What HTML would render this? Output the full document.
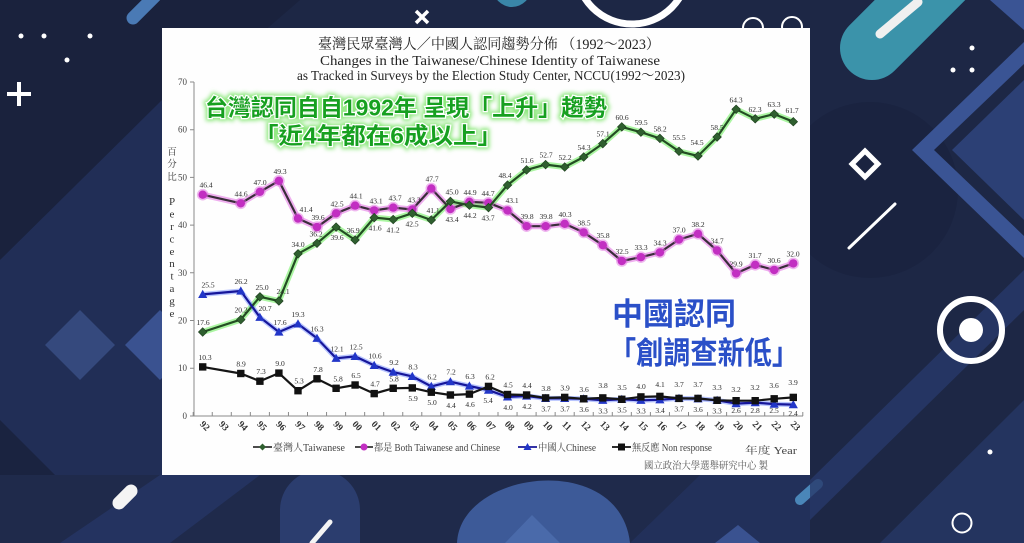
<!DOCTYPE html>
<html><head><meta charset="utf-8"><style>
html,body{margin:0;padding:0;background:#1d2745;}
svg{display:block}
</style></head><body>
<svg width="1024" height="543" viewBox="0 0 1024 543" xmlns="http://www.w3.org/2000/svg">
<defs>
<marker id="mD" markerUnits="userSpaceOnUse" markerWidth="12" markerHeight="12" viewBox="-6 -6 12 12" refX="0" refY="0"><path d="M0,-4.3L4.3,0L0,4.3L-4.3,0Z" fill="#2f5f2f" stroke="#1b3b1b" stroke-width="0.6"/></marker>
<marker id="mC" markerUnits="userSpaceOnUse" markerWidth="14" markerHeight="14" viewBox="-7 -7 14 14" refX="0" refY="0"><circle r="5.8" fill="#e070e0" opacity="0.5"/><circle r="4.2" fill="#c22fc2"/></marker>
<marker id="mT" markerUnits="userSpaceOnUse" markerWidth="12" markerHeight="12" viewBox="-6 -6 12 12" refX="0" refY="0"><path d="M0,-4.6L4.6,3.6L-4.6,3.6Z" fill="#2236c8"/></marker>
<marker id="mS" markerUnits="userSpaceOnUse" markerWidth="10" markerHeight="10" viewBox="-5 -5 10 10" refX="0" refY="0"><rect x="-3.7" y="-3.7" width="7.4" height="7.4" fill="#111"/></marker>
<filter id="blur2" x="-10%" y="-30%" width="120%" height="160%"><feGaussianBlur stdDeviation="2"/></filter>
</defs>

<!-- background -->
<rect width="1024" height="543" fill="#1d2745"/>
<polygon points="0,0 300,0 0,260" fill="#1a223d"/>
<polygon points="0,260 162,100 162,543 0,543" fill="#212e56"/>
<polygon points="0,420 70,490 20,543 0,543" fill="#1a2340"/>
<polygon points="80,310 115,345 80,380 45,345" fill="#35497d"/>
<polygon points="160,310 195,345 160,380 125,345" fill="#3a5290"/>
<polygon points="0,475 810,475 810,543 0,543" fill="#1f2a4b"/>
<polygon points="60,543 160,475 260,475 170,543" fill="#243360"/>
<path d="M280,543 V510 a40,40 0 0 1 80,0 V543Z" fill="#2b3d6e"/>
<path d="M457,543 C460,470 620,450 630,543Z" fill="#3d5a98"/>
<polygon points="505,543 532,515 560,543" fill="#4a6aaa"/>
<polygon points="630,543 700,475 810,475 810,543" fill="#22305a"/>
<polygon points="715,543 738,525 760,543" fill="#3a5290"/>
<line x1="330" y1="522" x2="312" y2="543" stroke="#f4f4f4" stroke-width="5" stroke-linecap="round"/>
<line x1="119" y1="503" x2="131" y2="491" stroke="#f4f4f4" stroke-width="13" stroke-linecap="round"/>
<line x1="800" y1="500" x2="818" y2="484" stroke="#4a86b8" stroke-width="10" stroke-linecap="round"/>

<!-- right strip -->
<circle cx="870" cy="190" r="88" fill="#1a2340"/>
<polygon points="880,543 1024,400 1024,543" fill="#24345f"/>
<polygon points="810,480 1024,270 1024,310 810,520" fill="#283a6a" opacity="0.8"/>
<polygon points="1024,42 912,150 1024,258 1024,236 934,150 1024,64" fill="#3a5494"/>
<polygon points="1024,80 952,150 1024,220" fill="#2c4075"/>
<polygon points="990,0 1024,0 1024,30" fill="#3a5494"/>
<line x1="872" y1="48" x2="965" y2="-45" stroke="#3b93aa" stroke-width="64" stroke-linecap="round"/>
<line x1="880" y1="34" x2="918" y2="2" stroke="#f0f0f0" stroke-width="9" stroke-linecap="round"/>
<circle cx="972" cy="48" r="2.5" fill="#fff"/><circle cx="953" cy="70" r="2.5" fill="#fff"/><circle cx="972" cy="70" r="2.5" fill="#fff"/>
<polygon points="865,151 878,164 865,177 852,164" fill="none" stroke="#fff" stroke-width="5"/>
<line x1="849" y1="248" x2="895" y2="204" stroke="#fff" stroke-width="3" stroke-linecap="round"/>
<circle cx="971" cy="330" r="31" fill="none" stroke="#fff" stroke-width="6"/>
<circle cx="971" cy="330" r="12" fill="#fff"/>
<circle cx="990" cy="452" r="2.5" fill="#fff"/>
<circle cx="962" cy="523" r="9.5" fill="none" stroke="#fff" stroke-width="2"/>

<!-- top strip / left decorations -->
<line x1="133" y1="18" x2="155" y2="-4" stroke="#4a7ab5" stroke-width="13" stroke-linecap="round"/>
<circle cx="21" cy="36" r="2.5" fill="#fff"/><circle cx="44" cy="36" r="2.5" fill="#fff"/><circle cx="90" cy="36" r="2.5" fill="#fff"/><circle cx="67" cy="60" r="2.5" fill="#fff"/>
<path d="M19,82V106M7,94H31" stroke="#fff" stroke-width="4"/>
<path d="M416,11L428,23M428,11L416,23" stroke="#fff" stroke-width="3.5"/>
<circle cx="512" cy="-12" r="19" fill="#3a86a8"/>
<circle cx="632" cy="-32" r="56" fill="none" stroke="#fff" stroke-width="7"/>
<circle cx="753" cy="28" r="10" fill="none" stroke="#fff" stroke-width="2"/>
<circle cx="792" cy="27" r="10" fill="none" stroke="#fff" stroke-width="2"/>

<!-- panel -->
<rect x="162" y="28" width="648" height="447" fill="#fefefe"/>

<!-- titles -->
<text x="489" y="49" text-anchor="middle" font-family="'Liberation Serif','Noto Serif CJK SC',serif" font-size="14.5" fill="#222" textLength="342" lengthAdjust="spacingAndGlyphs">臺灣民眾臺灣人／中國人認同趨勢分佈 （1992～2023）</text>
<text x="490" y="65" text-anchor="middle" font-family="'Liberation Serif',serif" font-size="14" fill="#222" textLength="340" lengthAdjust="spacingAndGlyphs">Changes in the Taiwanese/Chinese Identity of Taiwanese</text>
<text x="491" y="80" text-anchor="middle" font-family="'Liberation Serif','Noto Serif CJK SC',serif" font-size="14" fill="#222" textLength="388" lengthAdjust="spacingAndGlyphs">as Tracked in Surveys by the Election Study Center, NCCU(1992～2023)</text>

<!-- axes -->
<path d="M194,82V416H803" fill="none" stroke="#8a8a8a" stroke-width="1"/>
<path d="M190,82h4M190,129.7h4M190,177.4h4M190,225.1h4M190,272.8h4M190,320.5h4M190,368.2h4M190,416h4" stroke="#8a8a8a" stroke-width="1"/>
<path d="M193.2,412v4m19.05,-4v4m19.05,-4v4m19.05,-4v4m19.05,-4v4m19.05,-4v4m19.05,-4v4m19.05,-4v4m19.05,-4v4m19.05,-4v4m19.05,-4v4m19.05,-4v4m19.05,-4v4m19.05,-4v4m19.05,-4v4m19.05,-4v4m19.05,-4v4m19.05,-4v4m19.05,-4v4m19.05,-4v4m19.05,-4v4m19.05,-4v4m19.05,-4v4m19.05,-4v4m19.05,-4v4m19.05,-4v4m19.05,-4v4m19.05,-4v4m19.05,-4v4m19.05,-4v4m19.05,-4v4m19.05,-4v4m19.05,-4v4" stroke="#8a8a8a" stroke-width="1"/>
<g font-family="'Liberation Serif',serif" font-size="9" fill="#444" text-anchor="end">
<text x="187" y="85">70</text><text x="187" y="132.7">60</text><text x="187" y="180.4">50</text><text x="187" y="228.1">40</text><text x="187" y="275.8">30</text><text x="187" y="323.5">20</text><text x="187" y="371.2">10</text><text x="187" y="419">0</text>
</g>
<g font-family="'Liberation Serif','Noto Serif CJK SC',serif" font-size="9.5" fill="#333" text-anchor="middle">
<text x="172" y="155">百</text><text x="172" y="167">分</text><text x="172" y="180">比</text>
</g>
<g font-family="'Liberation Serif',serif" font-size="11" fill="#333" text-anchor="middle">
<text x="172" y="205.2">P</text><text x="172" y="217.6">e</text><text x="172" y="230">r</text><text x="172" y="242.4">c</text><text x="172" y="254.8">e</text><text x="172" y="267.2">n</text><text x="172" y="279.6">t</text><text x="172" y="292">a</text><text x="172" y="304.4">g</text><text x="172" y="316.8">e</text>
</g>
<g font-family="'Liberation Serif',serif" font-size="9.5" font-weight="bold" fill="#333" text-anchor="middle">
<text transform="translate(202.7,428) rotate(45)">92</text><text transform="translate(221.8,428) rotate(45)">93</text><text transform="translate(240.8,428) rotate(45)">94</text><text transform="translate(259.9,428) rotate(45)">95</text><text transform="translate(278.9,428) rotate(45)">96</text><text transform="translate(298,428) rotate(45)">97</text><text transform="translate(317,428) rotate(45)">98</text><text transform="translate(336.1,428) rotate(45)">99</text><text transform="translate(355.1,428) rotate(45)">00</text><text transform="translate(374.2,428) rotate(45)">01</text><text transform="translate(393.2,428) rotate(45)">02</text><text transform="translate(412.3,428) rotate(45)">03</text><text transform="translate(431.3,428) rotate(45)">04</text><text transform="translate(450.4,428) rotate(45)">05</text><text transform="translate(469.4,428) rotate(45)">06</text><text transform="translate(488.5,428) rotate(45)">07</text><text transform="translate(507.5,428) rotate(45)">08</text><text transform="translate(526.6,428) rotate(45)">09</text><text transform="translate(545.6,428) rotate(45)">10</text><text transform="translate(564.7,428) rotate(45)">11</text><text transform="translate(583.7,428) rotate(45)">12</text><text transform="translate(602.8,428) rotate(45)">13</text><text transform="translate(621.8,428) rotate(45)">14</text><text transform="translate(640.9,428) rotate(45)">15</text><text transform="translate(659.9,428) rotate(45)">16</text><text transform="translate(679,428) rotate(45)">17</text><text transform="translate(698,428) rotate(45)">18</text><text transform="translate(717.1,428) rotate(45)">19</text><text transform="translate(736.1,428) rotate(45)">20</text><text transform="translate(755.2,428) rotate(45)">21</text><text transform="translate(774.2,428) rotate(45)">22</text><text transform="translate(793.3,428) rotate(45)">23</text>
</g>

<!-- series glows -->
<polyline fill="none" stroke="#e060e0" stroke-width="6" stroke-opacity="0.5" stroke-linejoin="round" points="202.7,194.7 240.8,203.3 259.9,191.8 278.9,180.8 298,218.5 317,227.1 336.1,213.3 355.1,205.6 374.2,210.4 393.2,207.6 412.3,209.5 431.3,188.5 450.4,209 469.4,201.8 488.5,202.8 507.5,210.4 526.6,226.2 545.6,226.2 564.7,223.8 583.7,232.4 602.8,245.2 621.8,261 640.9,257.2 659.9,252.4 679,239.5 698,233.8 717.1,250.5 736.1,273.4 755.2,264.8 774.2,270 793.3,263.4"/>
<polyline fill="none" stroke="#66ee55" stroke-width="6" stroke-opacity="0.55" stroke-linejoin="round" points="202.7,332 240.8,319.6 259.9,296.8 278.9,301 298,253.8 317,243.3 336.1,227.1 355.1,240 374.2,217.6 393.2,219.5 412.3,213.3 431.3,220 450.4,201.4 469.4,205.2 488.5,207.6 507.5,185.1 526.6,169.9 545.6,164.6 564.7,167 583.7,157 602.8,143.6 621.8,126.9 640.9,132.2 659.9,138.4 679,151.3 698,156 717.1,137 736.1,109.3 755.2,118.8 774.2,114.1 793.3,121.7"/>
<polyline fill="none" stroke="#5070ff" stroke-width="5" stroke-opacity="0.4" stroke-linejoin="round" points="202.7,294.4 240.8,291 259.9,317.3 278.9,332 298,323.9 317,338.3 336.1,358.3 355.1,356.4 374.2,365.4 393.2,372.1 412.3,376.4 431.3,386.4 450.4,381.7 469.4,386 488.5,390.2 507.5,396.9 526.6,396 545.6,398.4 564.7,398.4 583.7,398.8 602.8,400.3 621.8,399.3 640.9,400.3 659.9,399.8 679,398.4 698,398.8 717.1,400.3 736.1,403.6 755.2,402.6 774.2,404.1 793.3,404.6"/>

<!-- series lines -->
<polyline fill="none" stroke="#3a2d3a" stroke-width="2.2" stroke-linejoin="round" marker-start="url(#mC)" marker-mid="url(#mC)" marker-end="url(#mC)" points="202.7,194.7 240.8,203.3 259.9,191.8 278.9,180.8 298,218.5 317,227.1 336.1,213.3 355.1,205.6 374.2,210.4 393.2,207.6 412.3,209.5 431.3,188.5 450.4,209 469.4,201.8 488.5,202.8 507.5,210.4 526.6,226.2 545.6,226.2 564.7,223.8 583.7,232.4 602.8,245.2 621.8,261 640.9,257.2 659.9,252.4 679,239.5 698,233.8 717.1,250.5 736.1,273.4 755.2,264.8 774.2,270 793.3,263.4"/>
<polyline fill="none" stroke="#234d23" stroke-width="2.2" stroke-linejoin="round" marker-start="url(#mD)" marker-mid="url(#mD)" marker-end="url(#mD)" points="202.7,332 240.8,319.6 259.9,296.8 278.9,301 298,253.8 317,243.3 336.1,227.1 355.1,240 374.2,217.6 393.2,219.5 412.3,213.3 431.3,220 450.4,201.4 469.4,205.2 488.5,207.6 507.5,185.1 526.6,169.9 545.6,164.6 564.7,167 583.7,157 602.8,143.6 621.8,126.9 640.9,132.2 659.9,138.4 679,151.3 698,156 717.1,137 736.1,109.3 755.2,118.8 774.2,114.1 793.3,121.7"/>
<polyline fill="none" stroke="#16169a" stroke-width="2.2" stroke-linejoin="round" marker-start="url(#mT)" marker-mid="url(#mT)" marker-end="url(#mT)" points="202.7,294.4 240.8,291 259.9,317.3 278.9,332 298,323.9 317,338.3 336.1,358.3 355.1,356.4 374.2,365.4 393.2,372.1 412.3,376.4 431.3,386.4 450.4,381.7 469.4,386 488.5,390.2 507.5,396.9 526.6,396 545.6,398.4 564.7,398.4 583.7,398.8 602.8,400.3 621.8,399.3 640.9,400.3 659.9,399.8 679,398.4 698,398.8 717.1,400.3 736.1,403.6 755.2,402.6 774.2,404.1 793.3,404.6"/>
<polyline fill="none" stroke="#151515" stroke-width="2.2" stroke-linejoin="round" marker-start="url(#mS)" marker-mid="url(#mS)" marker-end="url(#mS)" points="202.7,366.9 240.8,373.5 259.9,381.2 278.9,373.1 298,390.7 317,378.8 336.1,388.3 355.1,385 374.2,393.6 393.2,388.3 412.3,387.9 431.3,392.2 450.4,395 469.4,394.1 488.5,386.4 507.5,394.5 526.6,395 545.6,397.9 564.7,397.4 583.7,398.8 602.8,397.9 621.8,399.3 640.9,396.9 659.9,396.4 679,398.4 698,398.4 717.1,400.3 736.1,400.7 755.2,400.7 774.2,398.8 793.3,397.4"/>

<!-- data labels -->
<g font-family="'Liberation Serif',serif" font-size="7.5" fill="#2a2a2a" text-anchor="middle">
<text x="203" y="325">17.6</text><text x="241" y="312.6">20.2</text><text x="262" y="289.8">25.0</text><text x="283" y="294">24.1</text><text x="298" y="246.8">34.0</text><text x="316" y="236.3">36.2</text><text x="337" y="240.1">39.6</text><text x="353" y="233">36.9</text><text x="375" y="230.6">41.6</text><text x="393" y="232.5">41.2</text><text x="412" y="226.3">42.5</text><text x="433" y="213">41.1</text><text x="452" y="194.4">45.0</text><text x="470" y="218.2">44.2</text><text x="488" y="220.6">43.7</text><text x="505" y="178.1">48.4</text><text x="527" y="162.9">51.6</text><text x="546" y="157.6">52.7</text><text x="565" y="160">52.2</text><text x="584" y="150">54.3</text><text x="603" y="136.6">57.1</text><text x="622" y="119.9">60.6</text><text x="641" y="125.2">59.5</text><text x="660" y="131.4">58.2</text><text x="679" y="140">55.5</text><text x="697" y="145">54.5</text><text x="717" y="130">58.5</text><text x="736" y="102.3">64.3</text><text x="755" y="111.8">62.3</text><text x="774" y="107.1">63.3</text><text x="792" y="113">61.7</text>
<text x="206" y="187.7">46.4</text><text x="241" y="196.3">44.6</text><text x="260" y="184.8">47.0</text><text x="280" y="173.8">49.3</text><text x="306" y="212">41.4</text><text x="318" y="220.1">39.6</text><text x="337" y="206.3">42.5</text><text x="356" y="198.6">44.1</text><text x="376" y="203.4">43.1</text><text x="395" y="200.6">43.7</text><text x="414" y="202.5">43.3</text><text x="432" y="181.5">47.7</text><text x="452" y="222">43.4</text><text x="470" y="194.8">44.9</text><text x="488" y="195.8">44.7</text><text x="512" y="203">43.1</text><text x="527" y="219.2">39.8</text><text x="546" y="219.2">39.8</text><text x="565" y="216.8">40.3</text><text x="584" y="225.4">38.5</text><text x="603" y="238.2">35.8</text><text x="622" y="254">32.5</text><text x="641" y="250.2">33.3</text><text x="660" y="245.4">34.3</text><text x="679" y="232.5">37.0</text><text x="698" y="226.8">38.2</text><text x="717" y="243.5">34.7</text><text x="736" y="266.4">29.9</text><text x="755" y="257.8">31.7</text><text x="774" y="263">30.6</text><text x="793" y="256.4">32.0</text>
<text x="208" y="287.4">25.5</text><text x="241" y="284">26.2</text><text x="265" y="311">20.7</text><text x="280" y="325">17.6</text><text x="298" y="316.9">19.3</text><text x="317" y="331.3">16.3</text><text x="337" y="351.3">12.1</text><text x="356" y="349.4">12.5</text><text x="375" y="358.4">10.6</text><text x="394" y="365.1">9.2</text><text x="413" y="369.4">8.3</text><text x="432" y="379.4">6.2</text><text x="451" y="374.7">7.2</text><text x="470" y="379">6.3</text><text x="488" y="403.2">5.4</text><text x="508" y="409.9">4.0</text><text x="527" y="409">4.2</text><text x="546" y="411.4">3.7</text><text x="565" y="411.4">3.7</text><text x="584" y="411.8">3.6</text><text x="603" y="413.3">3.3</text><text x="622" y="412.3">3.5</text><text x="641" y="413.3">3.3</text><text x="660" y="412.8">3.4</text><text x="679" y="411.4">3.7</text><text x="698" y="411.8">3.6</text><text x="717" y="413.3">3.3</text><text x="736" y="413">2.6</text><text x="755" y="413">2.8</text><text x="774" y="413">2.5</text><text x="793" y="416">2.4</text>
<text x="205" y="359.9">10.3</text><text x="241" y="366.5">8.9</text><text x="261" y="374.2">7.3</text><text x="280" y="366.1">9.0</text><text x="299" y="383.7">5.3</text><text x="318" y="371.8">7.8</text><text x="338" y="381.3">5.8</text><text x="356" y="378">6.5</text><text x="375" y="386.6">4.7</text><text x="394" y="381.3">5.8</text><text x="413" y="400.9">5.9</text><text x="432" y="405.2">5.0</text><text x="451" y="408">4.4</text><text x="470" y="407.1">4.6</text><text x="490" y="379.4">6.2</text><text x="508" y="387.5">4.5</text><text x="527" y="388">4.4</text><text x="546" y="390.9">3.8</text><text x="565" y="390.4">3.9</text><text x="584" y="391.8">3.6</text><text x="603" y="388">3.8</text><text x="622" y="390">3.5</text><text x="641" y="389">4.0</text><text x="660" y="387">4.1</text><text x="679" y="387">3.7</text><text x="698" y="387">3.7</text><text x="717" y="390">3.3</text><text x="736" y="392">3.2</text><text x="755" y="390">3.2</text><text x="774" y="388">3.6</text><text x="793" y="385">3.9</text>
</g>

<!-- legend -->
<line x1="253" y1="447" x2="272" y2="447" stroke="#333" stroke-width="1.8"/><path d="M262.5,443.5L266,447L262.5,450.5L259,447Z" fill="#2f5f2f"/>
<line x1="355" y1="447" x2="373" y2="447" stroke="#333" stroke-width="1.8"/><circle cx="364" cy="447" r="3.5" fill="#c22fc2"/>
<line x1="518" y1="447" x2="537" y2="447" stroke="#16169a" stroke-width="1.8"/><path d="M527.5,443L531.5,450L523.5,450Z" fill="#2236c8"/>
<line x1="612" y1="447" x2="631" y2="447" stroke="#111" stroke-width="1.8"/><rect x="618" y="443.5" width="7" height="7" fill="#111"/>
<g font-family="'Liberation Serif','Noto Serif CJK SC',serif" font-size="10" fill="#444">
<text x="273" y="451" textLength="72" lengthAdjust="spacingAndGlyphs">臺灣人Taiwanese</text>
<text x="374" y="451" textLength="126" lengthAdjust="spacingAndGlyphs">都是 Both Taiwanese and Chinese</text>
<text x="538" y="451" textLength="58" lengthAdjust="spacingAndGlyphs">中國人Chinese</text>
<text x="632" y="451" textLength="80" lengthAdjust="spacingAndGlyphs">無反應 Non response</text>
<text x="745" y="454" textLength="52" lengthAdjust="spacingAndGlyphs">年度 Year</text>
<text x="644" y="469" textLength="124" lengthAdjust="spacingAndGlyphs" fill="#555">國立政治大學選舉研究中心 製</text>
</g>

<!-- overlay captions -->
<g font-family="'Liberation Sans','Noto Sans CJK TC',sans-serif" font-weight="bold" font-size="23">
<text x="205" y="115.7" textLength="402" lengthAdjust="spacingAndGlyphs" fill="none" stroke="#8ee87e" stroke-width="6" filter="url(#blur2)">台灣認同自自1992年 呈現「上升」趨勢</text>
<text x="205" y="115.7" textLength="402" lengthAdjust="spacingAndGlyphs" fill="#17a020" stroke="#fff" stroke-width="2.5" paint-order="stroke">台灣認同自自1992年 呈現「上升」趨勢</text>
<text x="254" y="143.7" textLength="248" lengthAdjust="spacingAndGlyphs" fill="none" stroke="#8ee87e" stroke-width="6" filter="url(#blur2)">「近4年都在6成以上」</text>
<text x="254" y="143.7" textLength="248" lengthAdjust="spacingAndGlyphs" fill="#17a020" stroke="#fff" stroke-width="2.5" paint-order="stroke">「近4年都在6成以上」</text>
</g>
<g font-family="'Liberation Sans','Noto Sans CJK TC',sans-serif" font-weight="bold" font-size="31" fill="#2b50c8" stroke="#fff" stroke-width="2.5" paint-order="stroke">
<text x="612" y="325">中國認同</text>
<text x="609" y="364" textLength="190" lengthAdjust="spacingAndGlyphs">「創調查新低」</text>
</g>
</svg>
</body></html>
